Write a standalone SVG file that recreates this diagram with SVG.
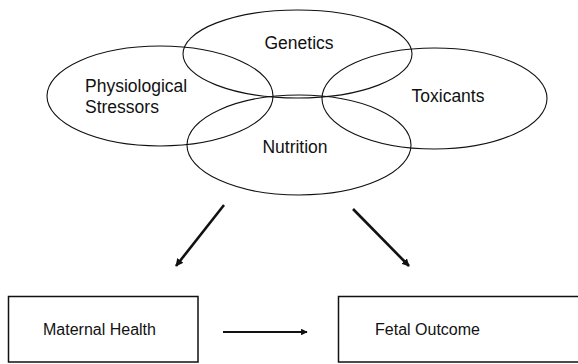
<svg xmlns="http://www.w3.org/2000/svg" width="578" height="364" viewBox="0 0 578 364">
<defs>
<style>
.e{fill:none;stroke:#111;stroke-width:1.1}
.b{fill:#fff;stroke:#111;stroke-width:1.5}
.t{font-family:"Liberation Sans",Arial,sans-serif;fill:#111}
.a{stroke:#111;stroke-width:2.6;fill:none;marker-end:url(#ah)}
</style>
<marker id="ah" viewBox="0 0 10 10" refX="9" refY="5" markerWidth="3" markerHeight="3" orient="auto" markerUnits="strokeWidth">
<path d="M0,0 L10,5 L0,10 z" fill="#111"/>
</marker>
</defs>
<rect width="578" height="364" fill="#fff"/>
<g id="genetics"><ellipse class="e" cx="297.5" cy="54" rx="114.5" ry="44"/><text class="t" x="299" y="49" font-size="17.5" text-anchor="middle">Genetics</text></g>
<g id="physiological"><ellipse class="e" cx="160" cy="96" rx="113" ry="50"/><text class="t" x="85" y="92" font-size="17.5">Physiological</text><text class="t" x="85" y="113" font-size="17.5">Stressors</text></g>
<g id="toxicants"><ellipse class="e" cx="434.5" cy="98.5" rx="112.5" ry="50.5"/><text class="t" x="448" y="102" font-size="17.5" text-anchor="middle">Toxicants</text></g>
<g id="nutrition"><ellipse class="e" cx="299" cy="145" rx="112" ry="50"/><text class="t" x="295" y="153" font-size="17.5" text-anchor="middle">Nutrition</text></g>
<g id="maternal"><rect class="b" x="8.5" y="296.5" width="189.5" height="65.5"/><text class="t" x="99.5" y="335" font-size="16" text-anchor="middle">Maternal Health</text></g>
<g id="fetal"><rect class="b" x="338.5" y="296.5" width="250" height="65.5"/><text class="t" x="427.5" y="335" font-size="16" text-anchor="middle">Fetal Outcome</text></g>
<g id="connectors">
<line class="a" x1="224" y1="205" x2="176" y2="266"/>
<line class="a" x1="353" y1="209" x2="409" y2="266"/>
<line class="a" x1="223" y1="332" x2="307" y2="332" style="stroke-width:2.2"/>
</g>
</svg>
